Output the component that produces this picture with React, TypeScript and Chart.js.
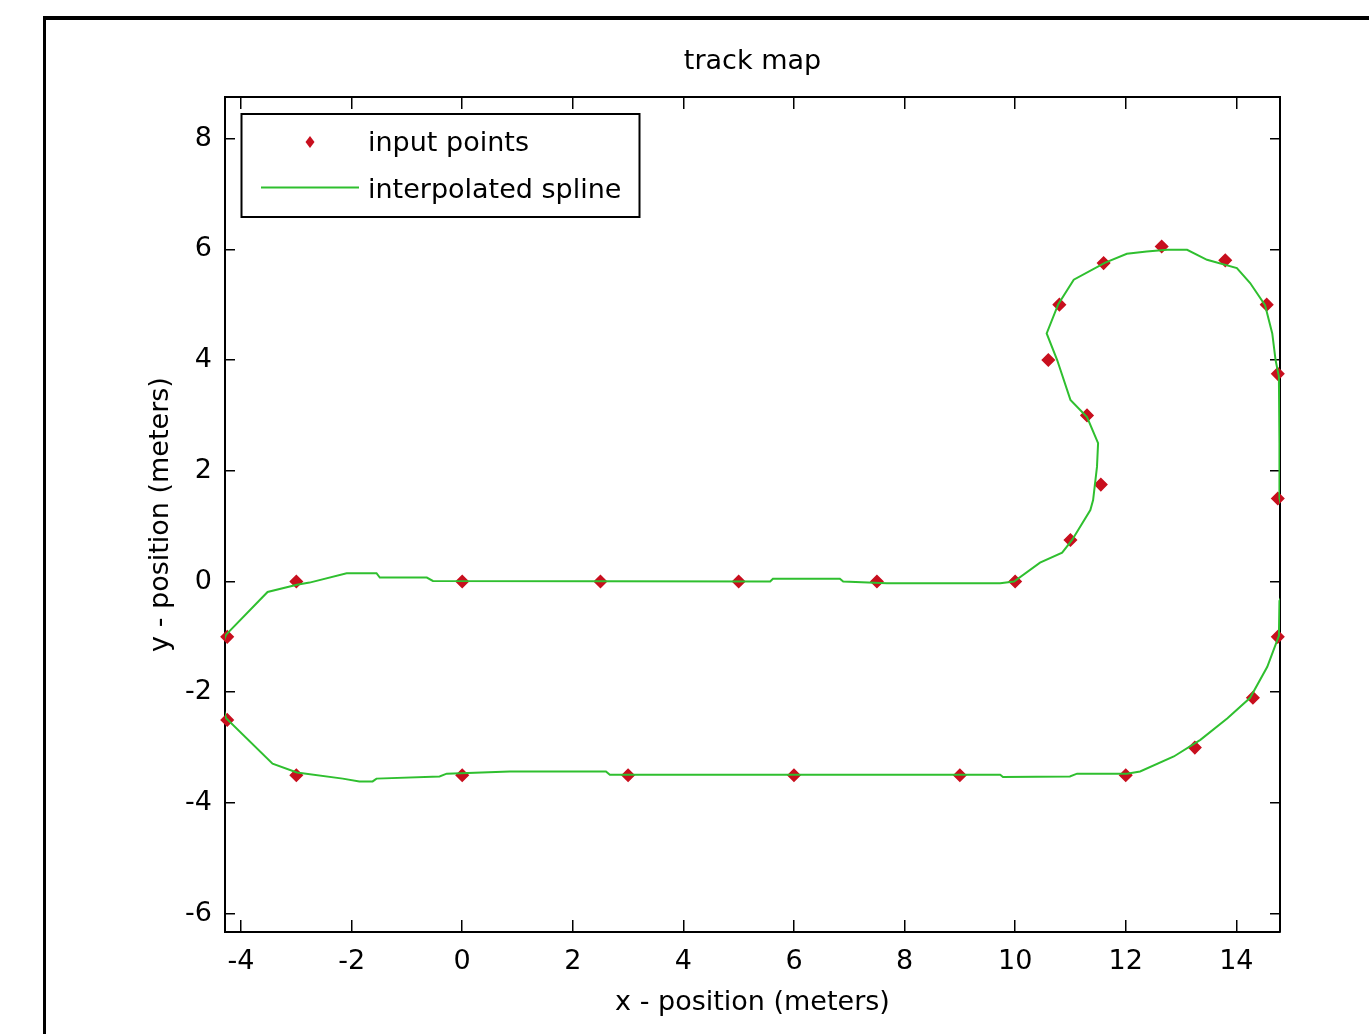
import React, { useEffect, useRef } from 'react';
import { Chart, registerables } from 'chart.js';

Chart.register(...registerables);

// ---- text ----
const chartTitle = 'track map';
const xAxisTitle = 'x - position (meters)';
const yAxisTitle = 'y - position (meters)';
const pointsLabel = 'input points';
const splineLabel = 'interpolated spline';

// ---- axes ----
const xTicks = [-4, -2, 0, 2, 4, 6, 8, 10, 12, 14];
const yTicks = [-6, -4, -2, 0, 2, 4, 6, 8];
const xRange = [-4.29, 14.79];
const yRange = [-6.33, 8.75];

// ---- input points (track order) ----
const inputX = [0, 2.5, 5, 7.5, 10, 11, 11.55, 11.3, 10.6, 10.8, 11.6, 12.65, 13.8, 14.55, 14.75, 14.75, 14.75, 14.3, 13.25, 12, 9, 6, 3, 0, -3, -4.25, -4.25, -3];
const inputY = [0, 0, 0, 0, 0, 0.75, 1.75, 3, 4, 5, 5.75, 6.05, 5.8, 5, 3.75, 1.5, -1, -2.1, -3, -3.5, -3.5, -3.5, -3.5, -3.5, -3.5, -2.5, -1, 0];

// ---- interpolated spline (vertices) ----
const splineX = [
  -4.27, -3.52, -2.99, -2.76, -2.09, -1.55, -1.49, -0.64, -0.53, 5.57,
  5.62, 6.83, 6.89, 7.68, 9.73, 9.98, 10.45, 10.85, 11.03, 11.36,
  11.41, 11.48, 11.5, 11.3, 11.0, 10.76, 10.57, 10.78, 11.06, 11.63,
  12.02, 12.38, 12.75, 13.11, 13.47, 14.01, 14.25, 14.52, 14.65, 14.71,
  14.77, 14.78, 14.78, 14.9, 14.95, 14.9, 14.78, 14.77, 14.56, 14.25,
  13.84, 13.35, 12.87, 12.26, 12.02, 11.12, 10.99, 9.78, 9.73, 2.67,
  2.6, 0.86, -0.28, -0.41, -1.55, -1.62, -1.86, -2.16, -2.99, -3.43,
  -4.27, -4.38, -4.45, -4.38, -4.27,
];
const splineY = [
  -0.96, -0.19, -0.06, -0.02, 0.15, 0.15, 0.07, 0.07, 0.01, 0.0,
  0.05, 0.05, 0.0, -0.03, -0.03, 0.0, 0.34, 0.52, 0.75, 1.29,
  1.47, 2.07, 2.5, 2.97, 3.28, 4.0, 4.48, 5.01, 5.45, 5.76,
  5.92, 5.96, 5.99, 5.99, 5.81, 5.66, 5.39, 4.99, 4.48, 4.0,
  3.7, 2.5, 1.5, 1.0, 0.5, -0.1, -0.35, -0.98, -1.54, -2.1,
  -2.47, -2.86, -3.16, -3.43, -3.47, -3.47, -3.52, -3.53, -3.49, -3.49,
  -3.43, -3.43, -3.47, -3.52, -3.56, -3.61, -3.61, -3.56, -3.45, -3.29,
  -2.47, -2.1, -1.7, -1.25, -0.96,
];

const FONT = "'DejaVu Sans', 'Liberation Sans', sans-serif";
const RED = '#c80f1e';
const GREEN = '#2fbf2f';

export default function App() {
  const ref = useRef<HTMLCanvasElement>(null);

  useEffect(() => {
    const canvas = ref.current;
    if (!canvas) return;
    Chart.defaults.font.family = FONT;
    Chart.defaults.font.size = 27;
    Chart.defaults.color = '#000';

    const fixTicks = (vals: number[]) => (scale: any) => {
      scale.ticks = vals.map((v) => ({ value: v }));
    };

    const legendPlugin = {
      id: 'boxLegend',
      afterDraw(chart: any) {
        const { ctx, chartArea } = chart;
        const x0 = chartArea.left + 16.5;
        const y0 = chartArea.top + 17;
        const w = 398;
        const h = 103;
        const ds = chart.data.datasets;
        ctx.save();
        ctx.fillStyle = '#fff';
        ctx.fillRect(x0, y0, w, h);
        ctx.lineWidth = 2;
        ctx.strokeStyle = '#000';
        ctx.strokeRect(x0, y0, w, h);
        // marker
        const mx = x0 + 68.5;
        const my = y0 + 28;
        ctx.fillStyle = ds[0].backgroundColor;
        ctx.beginPath();
        ctx.moveTo(mx, my - 6);
        ctx.lineTo(mx + 4.5, my);
        ctx.lineTo(mx, my + 6);
        ctx.lineTo(mx - 4.5, my);
        ctx.closePath();
        ctx.fill();
        // line sample
        ctx.strokeStyle = ds[1].borderColor;
        ctx.lineWidth = 2;
        ctx.beginPath();
        ctx.moveTo(x0 + 19.5, y0 + 73.5);
        ctx.lineTo(x0 + 117.5, y0 + 73.5);
        ctx.stroke();
        // text
        ctx.fillStyle = '#000';
        ctx.font = `27px ${FONT}`;
        ctx.textAlign = 'left';
        ctx.textBaseline = 'middle';
        ctx.fillText(ds[0].label, x0 + 126.5, y0 + 29.7);
        ctx.fillText(ds[1].label, x0 + 126.5, y0 + 76.7);
        ctx.restore();
      },
    };

    const axisCommon = (tickLen: number) => ({
      type: 'linear' as const,
      grid: {
        display: true,
        drawOnChartArea: false,
        drawTicks: true,
        tickLength: tickLen,
        color: '#000',
        lineWidth: 1.5,
      },
      border: { display: true, color: '#000', width: 2 },
    });

    const chart = new Chart(canvas, {
      type: 'scatter',
      data: {
        datasets: [
          {
            label: pointsLabel,
            data: inputX.map((x, i) => ({ x, y: inputY[i] })),
            showLine: false,
            pointStyle: 'rectRot',
            pointRadius: 6,
            backgroundColor: RED,
            borderColor: RED,
            borderWidth: 1.5,
            order: 2,
            clip: false,
          } as any,
          {
            label: splineLabel,
            data: splineX.map((x, i) => ({ x, y: splineY[i] })),
            showLine: true,
            borderColor: GREEN,
            backgroundColor: GREEN,
            borderWidth: 2,
            pointRadius: 0,
            tension: 0,
            order: 1,
            clip: 0,
          } as any,
        ],
      },
      options: {
        responsive: false,
        devicePixelRatio: 1,
        animation: false,
        events: [],
        layout: { padding: { top: 0, left: 0, right: 89, bottom: 0 } },
        plugins: {
          legend: { display: false },
          tooltip: { enabled: false },
          title: {
            display: true,
            text: chartTitle,
            fullSize: false,
            color: '#000',
            font: { family: FONT, size: 27, weight: 'normal' },
            padding: { top: 45.8, bottom: 18.8 },
          },
        },
        scales: {
          x: {
            ...axisCommon(-12),
            position: 'bottom',
            min: xRange[0],
            max: xRange[1],
            afterBuildTicks: fixTicks(xTicks),
            afterFit: (s: any) => { s.height = 102; },
            ticks: { padding: 26, color: '#000', font: { family: FONT, size: 27 }, maxRotation: 0, autoSkip: false },
            title: {
              display: true,
              text: xAxisTitle,
              color: '#000',
              font: { family: FONT, size: 27 },
              padding: { top: 0, bottom: 14.4 },
            },
          },
          x2: {
            ...axisCommon(-12),
            position: 'top',
            min: xRange[0],
            max: xRange[1],
            afterBuildTicks: fixTicks(xTicks),
            afterFit: (s: any) => { s.height = 0; },
            ticks: { display: false },
          },
          y: {
            ...axisCommon(-10),
            position: 'left',
            min: yRange[0],
            max: yRange[1],
            afterBuildTicks: fixTicks(yTicks),
            afterFit: (s: any) => { s.width = 225; },
            ticks: { padding: 23, color: '#000', font: { family: FONT, size: 27 }, autoSkip: false },
            title: {
              display: true,
              text: yAxisTitle,
              color: '#000',
              font: { family: FONT, size: 27 },
              padding: { top: 144.5, bottom: 0 },
            },
          },
          y2: {
            ...axisCommon(-10),
            position: 'right',
            min: yRange[0],
            max: yRange[1],
            afterBuildTicks: fixTicks(yTicks),
            afterFit: (s: any) => { s.width = 0; },
            ticks: { display: false },
          },
        } as any,
      },
      plugins: [legendPlugin],
    });

    return () => chart.destroy();
  }, []);

  return (
    <div style={{ position: 'absolute', left: 0, top: 0, width: 1369, height: 1034, overflow: 'hidden', background: '#fff' }}>
      <canvas ref={ref} width={1369} height={1034} style={{ display: 'block', width: 1369, height: 1034 }} />
      <div
        style={{
          position: 'absolute',
          left: 43,
          top: 16,
          width: 1369 - 43,
          height: 1034 - 16,
          borderLeft: '3px solid #000',
          borderTop: '4px solid #000',
          boxSizing: 'border-box',
          pointerEvents: 'none',
        }}
      />
    </div>
  );
}
